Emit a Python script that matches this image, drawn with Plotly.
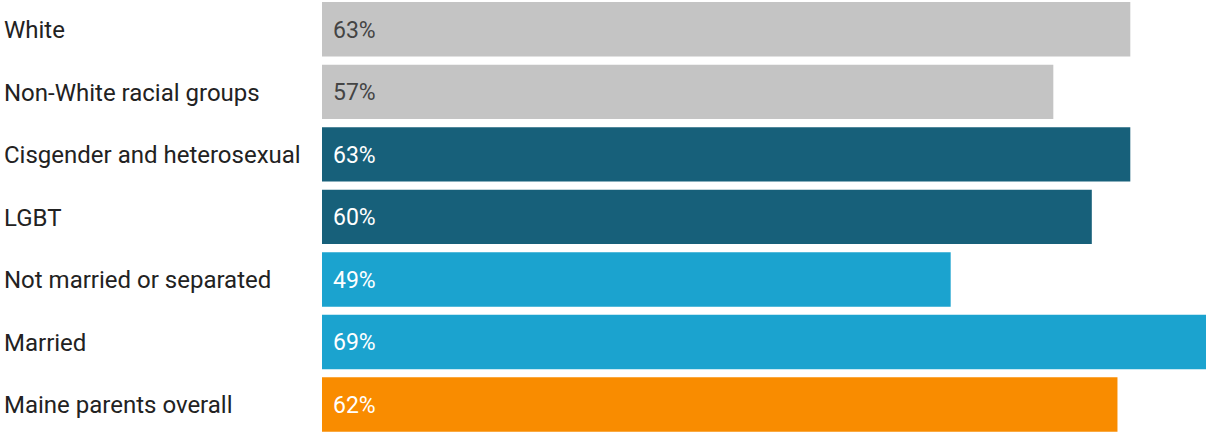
import plotly.graph_objects as go

categories = ["White", "Non-White racial groups", "Cisgender and heterosexual", "LGBT",
              "Not married or separated", "Married", "Maine parents overall"]
values = [63, 57, 63, 60, 49, 69, 62]
value_labels = ["63%", "57%", "63%", "60%", "49%", "69%", "62%"]
bar_colors = ["#c4c4c4", "#c4c4c4", "#17607a", "#17607a", "#1ba3cf", "#1ba3cf", "#f98c00"]
text_colors = ["#444444", "#444444", "#ffffff", "#ffffff", "#ffffff", "#ffffff", "#ffffff"]

idx = list(range(len(categories)))

fig = go.Figure(go.Bar(
    x=values, y=idx, orientation="h",
    marker=dict(color=bar_colors, line=dict(width=0)),
    width=0.87, hoverinfo="skip",
))

annotations = []
for i, (c, lab, tc) in enumerate(zip(categories, value_labels, text_colors)):
    annotations.append(dict(x=0, y=i, xref="paper", yref="y", text=c, showarrow=False,
                            xanchor="left", xshift=-320, yshift=-1,
                            font=dict(family="Roboto", size=24, color="#222222")))
    annotations.append(dict(x=0, y=i, xref="x", yref="y", text=lab, showarrow=False,
                            xanchor="left", xshift=9, yshift=-1,
                            font=dict(family="Roboto", size=23, color=tc)))

fig.update_layout(
    width=1206, height=432,
    margin=dict(l=322, r=0, t=0, b=0),
    paper_bgcolor="white", plot_bgcolor="white",
    xaxis=dict(range=[0, 68.9], visible=False, fixedrange=True),
    yaxis=dict(range=[6.44, -0.4686], visible=False, fixedrange=True),
    annotations=annotations,
    showlegend=False,
)

fig.write_html("out.html", config={"displayModeBar": False},
               post_script="document.body.style.margin='0';document.body.style.overflow='hidden';")
